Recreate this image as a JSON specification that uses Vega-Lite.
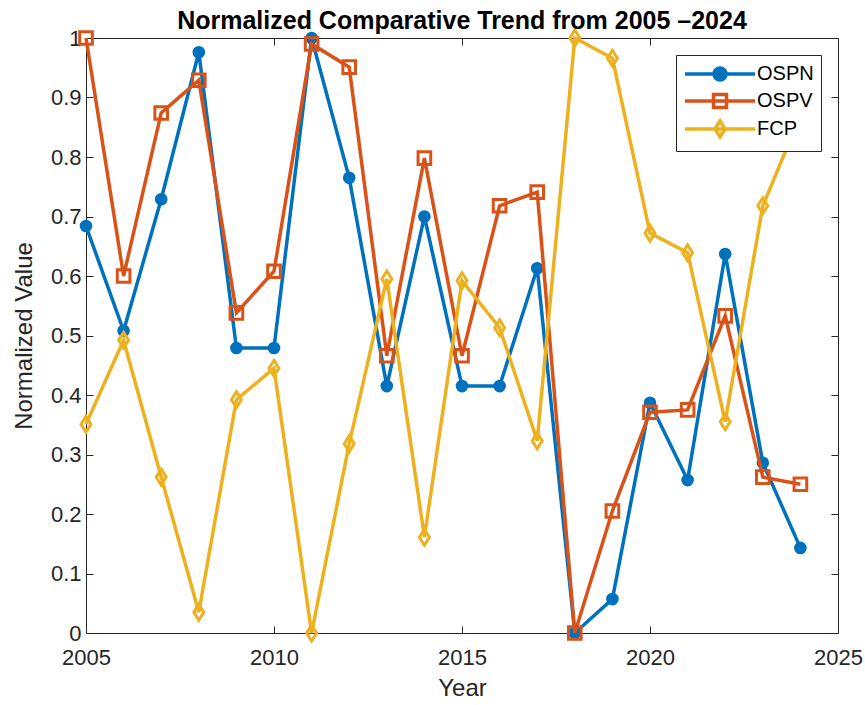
{
  "$schema": "https://vega.github.io/schema/vega-lite/v6.json",
  "width": 752,
  "height": 595,
  "autosize": "none",
  "padding": {"left": 86, "top": 38, "right": 27, "bottom": 72},
  "background": "white",
  "title": {
    "text": "Normalized Comparative Trend from 2005 –2024",
    "font": "Liberation Sans",
    "fontSize": 25,
    "fontWeight": "bold",
    "color": "#000000",
    "anchor": "middle",
    "offset": -10
  },
  "config": {
    "view": {"stroke": null},
    "axis": {
      "domainColor": "#262626",
      "tickColor": "#262626",
      "labelColor": "#262626",
      "titleColor": "#262626",
      "labelFont": "Liberation Sans",
      "titleFont": "Liberation Sans",
      "labelFontSize": 22,
      "titleFontSize": 24,
      "titleFontWeight": "normal",
      "grid": false,
      "tickSize": -7,
      "domainWidth": 1,
      "tickWidth": 1,
      "labelFlush": false
    }
  },
  "data": {
    "values": [
      {"year": 2005, "series": "OSPN", "value": 0.684},
      {"year": 2006, "series": "OSPN", "value": 0.508},
      {"year": 2007, "series": "OSPN", "value": 0.729},
      {"year": 2008, "series": "OSPN", "value": 0.976},
      {"year": 2009, "series": "OSPN", "value": 0.479},
      {"year": 2010, "series": "OSPN", "value": 0.479},
      {"year": 2011, "series": "OSPN", "value": 1.0},
      {"year": 2012, "series": "OSPN", "value": 0.765},
      {"year": 2013, "series": "OSPN", "value": 0.415},
      {"year": 2014, "series": "OSPN", "value": 0.70},
      {"year": 2015, "series": "OSPN", "value": 0.415},
      {"year": 2016, "series": "OSPN", "value": 0.415},
      {"year": 2017, "series": "OSPN", "value": 0.613},
      {"year": 2018, "series": "OSPN", "value": 0.0},
      {"year": 2019, "series": "OSPN", "value": 0.057},
      {"year": 2020, "series": "OSPN", "value": 0.387},
      {"year": 2021, "series": "OSPN", "value": 0.257},
      {"year": 2022, "series": "OSPN", "value": 0.637},
      {"year": 2023, "series": "OSPN", "value": 0.286},
      {"year": 2024, "series": "OSPN", "value": 0.143},
      {"year": 2005, "series": "OSPV", "value": 1.0},
      {"year": 2006, "series": "OSPV", "value": 0.60},
      {"year": 2007, "series": "OSPV", "value": 0.874},
      {"year": 2008, "series": "OSPV", "value": 0.929},
      {"year": 2009, "series": "OSPV", "value": 0.538},
      {"year": 2010, "series": "OSPV", "value": 0.608},
      {"year": 2011, "series": "OSPV", "value": 0.99},
      {"year": 2012, "series": "OSPV", "value": 0.951},
      {"year": 2013, "series": "OSPV", "value": 0.466},
      {"year": 2014, "series": "OSPV", "value": 0.798},
      {"year": 2015, "series": "OSPV", "value": 0.466},
      {"year": 2016, "series": "OSPV", "value": 0.718},
      {"year": 2017, "series": "OSPV", "value": 0.741},
      {"year": 2018, "series": "OSPV", "value": 0.0},
      {"year": 2019, "series": "OSPV", "value": 0.205},
      {"year": 2020, "series": "OSPV", "value": 0.371},
      {"year": 2021, "series": "OSPV", "value": 0.375},
      {"year": 2022, "series": "OSPV", "value": 0.533},
      {"year": 2023, "series": "OSPV", "value": 0.262},
      {"year": 2024, "series": "OSPV", "value": 0.25},
      {"year": 2005, "series": "FCP", "value": 0.351},
      {"year": 2006, "series": "FCP", "value": 0.492},
      {"year": 2007, "series": "FCP", "value": 0.262},
      {"year": 2008, "series": "FCP", "value": 0.035},
      {"year": 2009, "series": "FCP", "value": 0.392},
      {"year": 2010, "series": "FCP", "value": 0.445},
      {"year": 2011, "series": "FCP", "value": 0.0},
      {"year": 2012, "series": "FCP", "value": 0.318},
      {"year": 2013, "series": "FCP", "value": 0.595},
      {"year": 2014, "series": "FCP", "value": 0.161},
      {"year": 2015, "series": "FCP", "value": 0.592},
      {"year": 2016, "series": "FCP", "value": 0.513},
      {"year": 2017, "series": "FCP", "value": 0.323},
      {"year": 2018, "series": "FCP", "value": 1.0},
      {"year": 2019, "series": "FCP", "value": 0.966},
      {"year": 2020, "series": "FCP", "value": 0.672},
      {"year": 2021, "series": "FCP", "value": 0.639},
      {"year": 2022, "series": "FCP", "value": 0.355},
      {"year": 2023, "series": "FCP", "value": 0.718},
      {"year": 2024, "series": "FCP", "value": 0.87}
    ]
  },
  "encoding": {
    "color": {
      "field": "series",
      "type": "nominal",
      "scale": {
        "domain": ["OSPN", "OSPV", "FCP"],
        "range": ["#0072BD", "#D95319", "#EDB120"]
      },
      "legend": {
        "title": null,
        "orient": "top-right",
        "offset": 17,
        "padding": 7,
        "fillColor": "white",
        "strokeColor": "#262626",
        "labelFont": "Liberation Sans",
        "labelFontSize": 20,
        "labelColor": "#000000",
        "labelOffset": 50,
        "symbolSize": 400,
        "symbolStrokeWidth": 3.5,
        "rowPadding": -1,
        "encode": {
          "symbols": {
            "update": {
              "shape": [
                {"test": "datum.value === 'OSPN'", "value": "M-1,0H6M3.1,0A0.6,0.6 0 1 1 1.9,0A0.6,0.6 0 1 1 3.1,0Z"},
                {"test": "datum.value === 'OSPV'", "value": "M-1,0H6M1.85,-0.65H3.15V0.65H1.85Z"},
                {"value": "M-1,0H6M2.5,-0.8L3.0,0L2.5,0.8L2.0,0Z"}
              ],
              "fillOpacity": [
                {"test": "datum.value === 'OSPN'", "value": 1},
                {"value": 0}
              ]
            }
          }
        }
      }
    }
  },
  "layer": [
    {
      "transform": [{"filter": "datum.series === 'OSPN'"}],
      "mark": {
        "type": "line",
        "strokeWidth": 3.5,
        "point": {"filled": true, "shape": "circle", "size": 160}
      },
      "encoding": {
        "x": {
          "field": "year", "type": "quantitative",
          "scale": {"domain": [2005, 2025], "nice": false, "zero": false},
          "axis": {
            "orient": "bottom",
            "values": [2005, 2010, 2015, 2020, 2025],
            "format": "d",
            "title": "Year",
            "labelPadding": 21,
            "titlePadding": 8
          }
        },
        "y": {
          "field": "value", "type": "quantitative",
          "scale": {"domain": [0, 1], "nice": false},
          "axis": {
            "orient": "left",
            "values": [0, 0.1, 0.2, 0.3, 0.4, 0.5, 0.6, 0.7, 0.8, 0.9, 1],
            "format": "~g",
            "title": "Normalized Value",
            "labelPadding": 12,
            "titlePadding": 14
          }
        }
      }
    },
    {
      "transform": [{"filter": "datum.series === 'OSPV'"}],
      "mark": {
        "type": "line",
        "strokeWidth": 3.5,
        "point": {"filled": false, "shape": "square", "size": 160, "strokeWidth": 3}
      },
      "encoding": {
        "x": {"field": "year", "type": "quantitative", "axis": null},
        "y": {"field": "value", "type": "quantitative", "axis": null}
      }
    },
    {
      "transform": [{"filter": "datum.series === 'FCP'"}],
      "mark": {
        "type": "line",
        "strokeWidth": 3.5,
        "point": {"filled": false, "shape": "M0,-1.33L0.83,0L0,1.33L-0.83,0Z", "size": 144, "strokeWidth": 3}
      },
      "encoding": {
        "x": {
          "field": "year", "type": "quantitative",
          "axis": {
            "orient": "top",
            "values": [2005, 2010, 2015, 2020, 2025],
            "labels": false,
            "title": null
          }
        },
        "y": {
          "field": "value", "type": "quantitative",
          "axis": {
            "orient": "right",
            "values": [0, 0.1, 0.2, 0.3, 0.4, 0.5, 0.6, 0.7, 0.8, 0.9, 1],
            "labels": false,
            "title": null
          }
        }
      }
    }
  ],
  "resolve": {"axis": {"x": "independent", "y": "independent"}}
}
